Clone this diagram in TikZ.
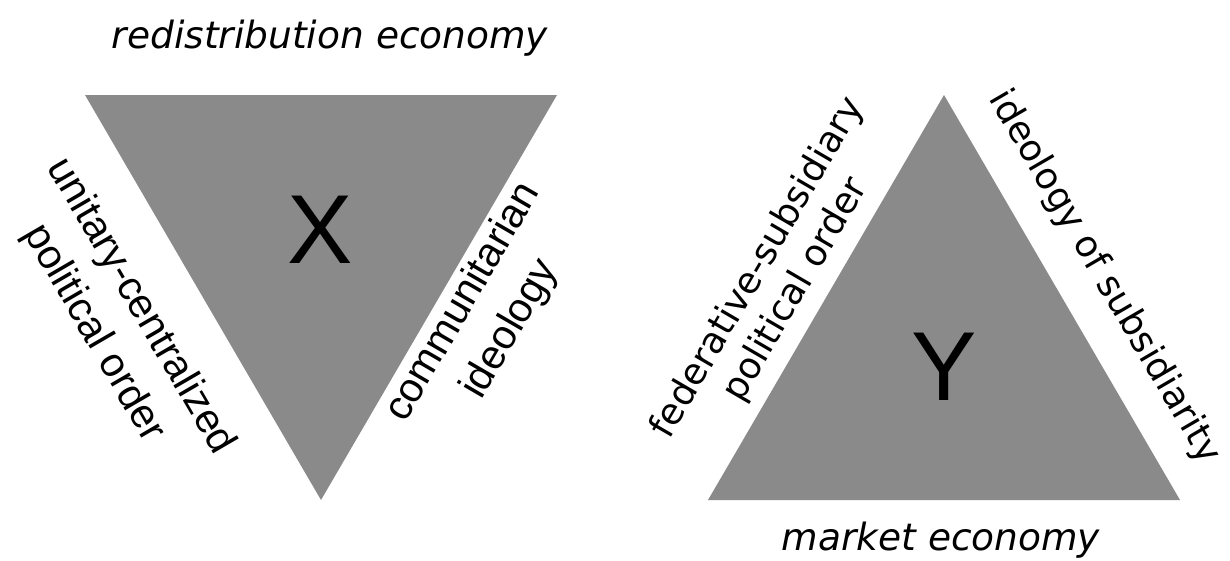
\documentclass[tikz,border=0pt]{standalone}
\usepackage{fontspec}
\setmainfont{DejaVu Sans}
\newfontfamily\arialf{Liberation Sans}
\definecolor{trigray}{RGB}{138,138,138}
\tikzset{
  tri/.style={fill=trigray,draw=none},
  tahoma/.style={inner sep=0pt,font=\fontsize{36.5}{44}\selectfont,align=center},
  tahomait/.style={inner sep=0pt,font=\fontsize{37.5}{44}\selectfont\itshape},
  arialbl/.style={inner sep=0pt,font=\arialf\fontsize{41}{54}\selectfont,align=center},
  bigletter/.style={inner sep=0pt,font=\arialf\fontsize{98}{100}\selectfont},
}
\begin{document}
\begin{tikzpicture}[x=1pt,y=-1pt]
\useasboundingbox (0,0) rectangle (1230,560);
% triangle X
\coordinate (xa) at (85,95);
\coordinate (xb) at (557,95);
\coordinate (xc) at (321,500);
\fill[tri] (xa) -- (xb) -- (xc) -- cycle;
% triangle Y
\coordinate (ya) at (944,95);
\coordinate (yb) at (708,500);
\coordinate (yc) at (1180,500);
\fill[tri] (ya) -- (yb) -- (yc) -- cycle;
% letters
\node[bigletter] (X) at (320,230) {X};
\node[bigletter] (Y) at (944,367) {Y};
% labels X
\node[tahomait,anchor=base] (redist) at (330,48) {redistribution economy};
\node[arialbl,rotate=-59.8] (unitary) at (117,320) {unitary-centralized\\political order};
\node[arialbl,rotate=59.8] (commun) at (487,316) {communitarian\\ideology};
% labels Y
\node[tahomait,anchor=base] (market) at (941,550) {market economy};
\node[tahoma,rotate=59.8] (feder) at (777,279) {federative-subsidiary\\political order};
\node[tahoma,rotate=-59.8] (ideol) at (1104,277) {ideology of subsidiarity};
\end{tikzpicture}
\end{document}
